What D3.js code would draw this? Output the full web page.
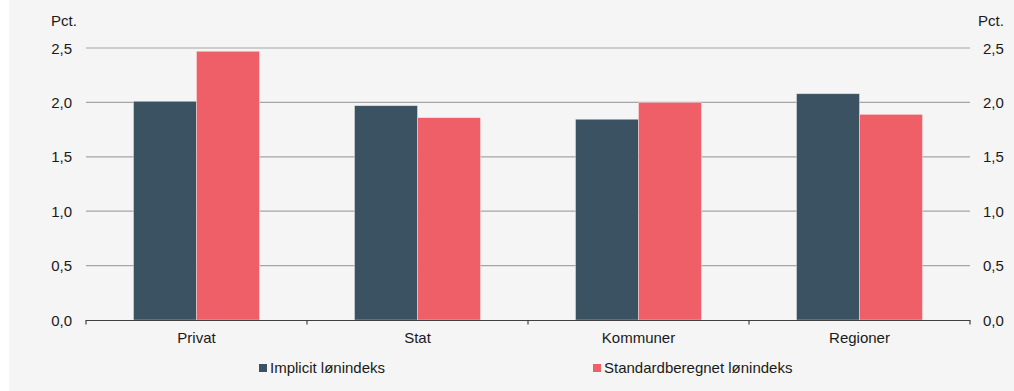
<!DOCTYPE html>
<html><head><meta charset="utf-8">
<script src="https://cdn.jsdelivr.net/npm/d3@7"></script>
<style>html,body{margin:0;padding:0;background:#fff;}svg{display:block;}</style>
</head><body>
<svg id="c" width="1014" height="391"></svg>
<script>
const categories = ["Privat", "Stat", "Kommuner", "Regioner"];
const seriesNames = ["Implicit lønindeks", "Standardberegnet lønindeks"];
const implicitValues = [2.01, 1.97, 1.845, 2.08];
const standardValues = [2.47, 1.86, 2.0, 1.89];
const yTicks = [0, 0.5, 1.0, 1.5, 2.0, 2.5];
const yTickLabels = ["0,0", "0,5", "1,0", "1,5", "2,0", "2,5"];
const colors = ["#3b5263", "#ef5f68"];

const svg = d3.select("#c");
const font = "'Liberation Sans', Arial, sans-serif";
const fs = 15;
svg.append("rect").attr("x", 9).attr("y", 0).attr("width", 1005).attr("height", 391).attr("fill", "#f5f5f5");

const L = 86, R = 970, T = 48, B = 320;
const y = d3.scaleLinear().domain([0, 2.5]).range([B, T]);
const x = d3.scaleBand().domain(categories).range([L, R]).padding(0);
const bw = x.bandwidth();
const xs = d3.scaleBand().domain(seriesNames).range([bw * 0.215, bw * 0.785]).padding(0);

// gridlines
svg.append("g").selectAll("line").data(yTicks.filter(d => d > 0)).join("line")
  .attr("x1", L).attr("x2", R).attr("y1", d => y(d)).attr("y2", d => y(d))
  .attr("stroke", "#a6a6a6").attr("stroke-width", 1.2);

// bars
const data = categories.map((c, i) => ({c, vals: [implicitValues[i], standardValues[i]]}));
const g = svg.append("g");
data.forEach(d => {
  d.vals.forEach((v, j) => {
    g.append("rect")
      .attr("x", x(d.c) + xs(seriesNames[j]))
      .attr("y", y(v))
      .attr("width", xs.bandwidth())
      .attr("height", y(0) - y(v))
      .attr("fill", colors[j])
      .attr("stroke", "rgba(255,255,255,0.45)")
      .attr("stroke-width", 0.8);
  });
});

// x axis
const xAxis = svg.append("g").attr("transform", `translate(0,${B})`);
xAxis.append("line").attr("x1", L).attr("x2", R).attr("y1", 0.5).attr("y2", 0.5).attr("stroke", "#404040").attr("stroke-width", 1.2);
const boundaries = categories.map(c => x(c)).concat([R]);
xAxis.selectAll("line.t").data(boundaries).join("line").attr("class", "t")
  .attr("x1", d => d).attr("x2", d => d).attr("y1", 0).attr("y2", 4.5)
  .attr("stroke", "#404040").attr("stroke-width", 1.2);
xAxis.selectAll("text").data(categories).join("text")
  .attr("x", d => x(d) + bw / 2).attr("y", 23)
  .attr("text-anchor", "middle").attr("font-family", font).attr("font-size", fs).attr("fill", "#1a1a1a")
  .text(d => d);

// y labels
svg.append("g").selectAll("text").data(yTicks).join("text")
  .attr("x", 72).attr("y", d => y(d) + 5.5).attr("text-anchor", "end")
  .attr("font-family", font).attr("font-size", fs).attr("fill", "#1a1a1a")
  .text((d, i) => yTickLabels[i]);
svg.append("g").selectAll("text").data(yTicks).join("text")
  .attr("x", 983).attr("y", d => y(d) + 5.5).attr("text-anchor", "start")
  .attr("font-family", font).attr("font-size", fs).attr("fill", "#1a1a1a")
  .text((d, i) => yTickLabels[i]);
svg.append("text").attr("x", 51).attr("y", 26).attr("font-family", font).attr("font-size", fs).attr("fill", "#1a1a1a").text("Pct.");
svg.append("text").attr("x", 978).attr("y", 26).attr("font-family", font).attr("font-size", fs).attr("fill", "#1a1a1a").text("Pct.");

// legend
const legendX = [259, 593];
const lg = svg.append("g");
seriesNames.forEach((s, i) => {
  lg.append("rect").attr("x", legendX[i]).attr("y", 364).attr("width", 8).attr("height", 8).attr("fill", colors[i]);
  lg.append("text").attr("x", legendX[i] + 11).attr("y", 373).attr("font-family", font).attr("font-size", fs).attr("fill", "#1a1a1a").text(s);
});
</script>
</body></html>
